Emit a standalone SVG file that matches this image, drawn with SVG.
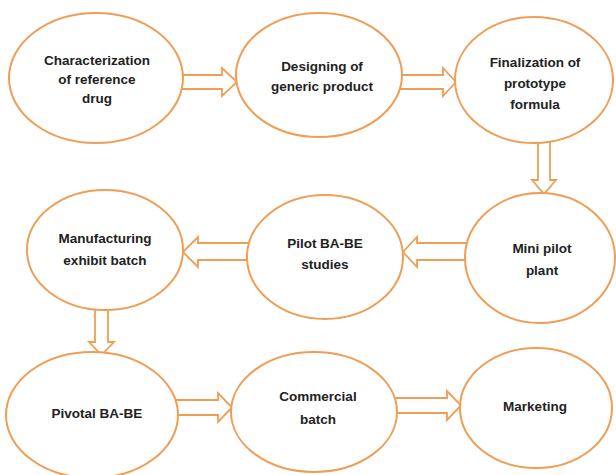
<svg xmlns="http://www.w3.org/2000/svg" width="616" height="475" viewBox="0 0 616 475">
<style>
.n{fill:#fff;stroke:#EE9E55;stroke-width:2}
.a{fill:#fff;stroke:#EE9E55;stroke-width:1.8;stroke-linejoin:miter}
text{font-family:"Liberation Sans",Arial,sans-serif;font-weight:bold;font-size:13.5px;fill:#222;text-anchor:middle;dominant-baseline:central}
</style>
<rect width="616" height="475" fill="#fff"/>
<g id="connectors">
<polygon class="a" points="180,75 222,75 222,68 237,82 222,96 222,89 180,89"/>
<polygon class="a" points="398,75 443,75 443,68 456,82 443,96 443,89 398,89"/>
<polygon class="a" points="538,140 550,140 550,180 556,180 544,194 532,180 538,180"/>
<polygon class="a" points="468,243 417,243 417,237 403,252 417,267 417,260 468,260"/>
<polygon class="a" points="249,243 198,243 198,237 183,252 198,267 198,260 249,260"/>
<polygon class="a" points="95,308 108,308 108,342 114,342 101.5,355 89,342 95,342"/>
<polygon class="a" points="175,400 218,400 218,393 232,407.5 218,422 218,415 175,415"/>
<polygon class="a" points="395,398 447,398 447,391 461,405.5 447,420 447,413 395,413"/>
</g>
<g id="n1"><ellipse class="n" cx="96" cy="78" rx="87" ry="65"/><text x="97" y="60">Characterization</text><text x="97" y="79">of reference</text><text x="97" y="98">drug</text></g>
<g id="n2"><ellipse class="n" cx="319" cy="75" rx="83" ry="62"/><text x="322" y="66">Designing of</text><text x="322" y="86">generic product</text></g>
<g id="n3"><ellipse class="n" cx="534" cy="80" rx="79" ry="63"/><text x="535" y="62">Finalization of</text><text x="535" y="83">prototype</text><text x="535" y="104">formula</text></g>
<g id="n4"><ellipse class="n" cx="540" cy="258" rx="75" ry="65"/><text x="542" y="248">Mini pilot</text><text x="542" y="270">plant</text></g>
<g id="n5"><ellipse class="n" cx="325" cy="257" rx="78" ry="62"/><text x="325" y="243">Pilot BA-BE</text><text x="325" y="264">studies</text></g>
<g id="n6"><ellipse class="n" cx="105" cy="250" rx="78" ry="60"/><text x="105" y="238">Manufacturing</text><text x="105" y="260">exhibit batch</text></g>
<g id="n7"><ellipse class="n" cx="92" cy="415" rx="86" ry="63"/><text x="97" y="413">Pivotal BA-BE</text></g>
<g id="n8"><ellipse class="n" cx="314" cy="412" rx="83" ry="60"/><text x="318" y="396">Commercial</text><text x="318" y="419">batch</text></g>
<g id="n9"><ellipse class="n" cx="536" cy="408" rx="76" ry="60"/><text x="535" y="406">Marketing</text></g>
</svg>
